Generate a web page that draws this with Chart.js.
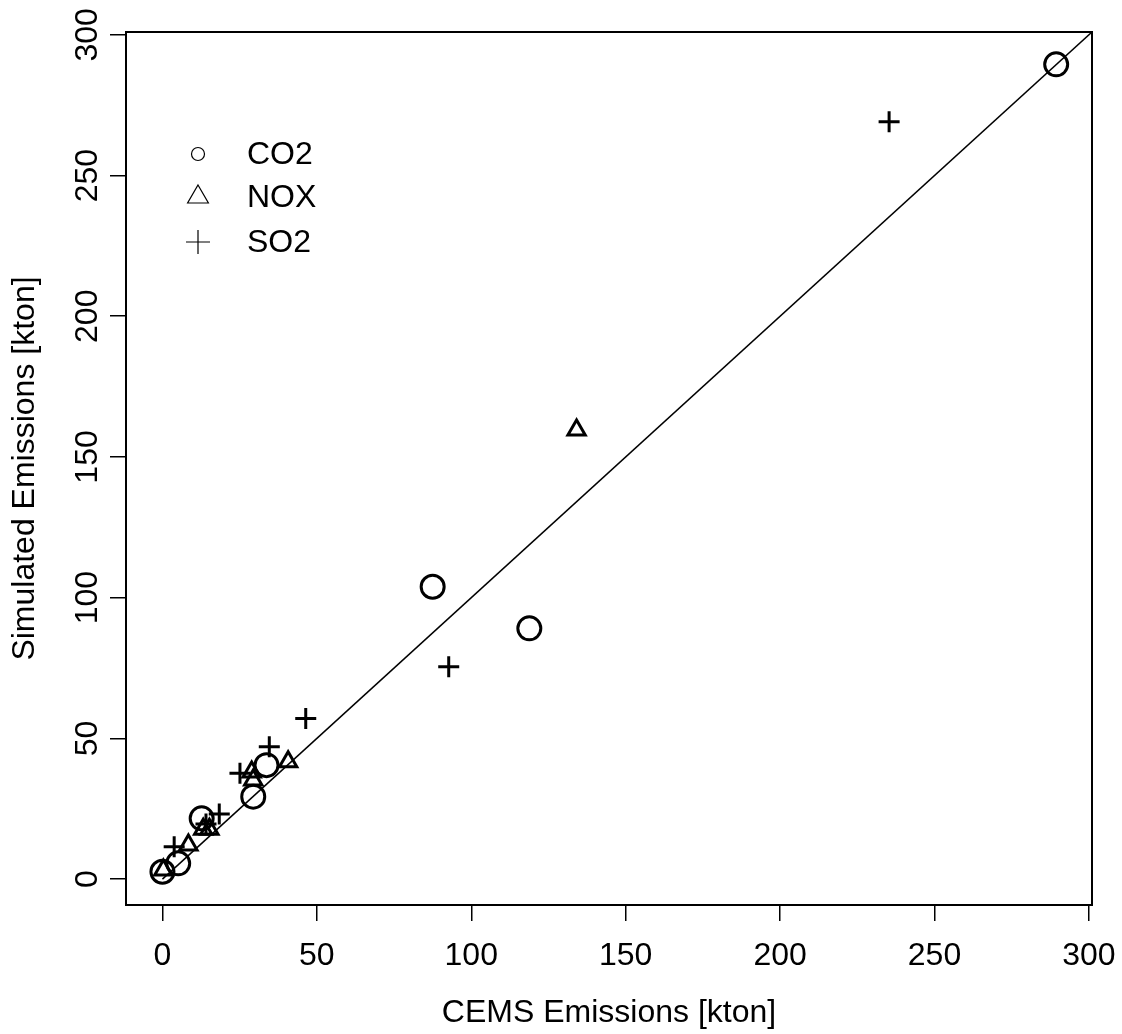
<!DOCTYPE html>
<html>
<head>
<meta charset="utf-8">
<script src="https://cdn.jsdelivr.net/npm/chart.js@4"></script>
<style>
  body { margin: 0; background: #fff; }
  canvas { display: block; }
</style>
</head>
<body>
<canvas id="chart" width="1122" height="1034"></canvas>
<script>
// values (kton)
const co2X = [289.4, 87.5, 118.8, 33.7, 29.4, 12.7, 5.1, 0.0];
const co2Y = [289.5, 103.9, 89.1, 40.5, 29.3, 21.6, 5.6, 2.6];
const noxX = [134.1, 40.7, 28.9, 29.4, 13.2, 15.2, 8.4, 0.3];
const noxY = [159.6, 41.7, 38.1, 35.2, 17.7, 17.7, 12.1, 3.2];
const so2X = [235.3, 92.7, 46.4, 34.6, 25.1, 18.4, 14.1, 3.8];
const so2Y = [269.1, 75.5, 57.1, 47.0, 37.6, 23.1, 19.6, 11.5];
const xTicks = [0, 50, 100, 150, 200, 250, 300];
const yTicks = [0, 50, 100, 150, 200, 250, 300];
const oneToOne = [0, 320];

const toPoints = (xs, ys) => xs.map((x, i) => ({ x: x, y: ys[i] }));
const font = 'Liberation Sans, Arial, sans-serif';

const frame = {
  id: 'frame',
  afterDraw(chart) {
    const { ctx, chartArea: a, scales } = chart;
    ctx.save();
    // box round the plot
    ctx.strokeStyle = '#000';
    ctx.lineWidth = 2;
    ctx.strokeRect(a.left, a.top, a.right - a.left, a.bottom - a.top);

    // y tick labels, written along the axis
    ctx.fillStyle = '#000';
    ctx.font = '32px ' + font;
    ctx.textAlign = 'center';
    ctx.textBaseline = 'alphabetic';
    yTicks.forEach(v => {
      const y = scales.y.getPixelForValue(v);
      ctx.save();
      ctx.translate(a.left - 29, y);
      ctx.rotate(-Math.PI / 2);
      ctx.fillText(String(v), 0, 0);
      ctx.restore();
    });

    // legend in the top left corner
    const lx = a.left + 72, tx = a.left + 121;
    const rows = [a.top + 122, a.top + 165, a.top + 210];
    ctx.textAlign = 'left';
    ctx.textBaseline = 'middle';
    chart.data.datasets.slice(0, 3).forEach((ds, i) => {
      ctx.fillStyle = 'rgba(0,0,0,0)';
      ctx.strokeStyle = '#000';
      ctx.lineWidth = 1.2;
      Chart.helpers.drawPoint(ctx, {
        pointStyle: ds.pointStyle,
        radius: [6.5, 12, 12][i],
        borderWidth: 1.2
      }, lx, rows[i]);
      ctx.fillStyle = '#000';
      ctx.fillText(ds.label, tx, rows[i] + 1);
    });
    ctx.restore();
  }
};

new Chart(document.getElementById('chart'), {
  type: 'scatter',
  data: {
    datasets: [
      {
        label: 'CO2',
        data: toPoints(co2X, co2Y),
        pointStyle: 'circle',
        pointRadius: 11.5,
        borderWidth: 3,
        borderColor: '#000',
        backgroundColor: 'rgba(0,0,0,0)'
      },
      {
        label: 'NOX',
        data: toPoints(noxX, noxY),
        pointStyle: 'triangle',
        pointRadius: 10,
        borderWidth: 3,
        borderColor: '#000',
        backgroundColor: 'rgba(0,0,0,0)'
      },
      {
        label: 'SO2',
        data: toPoints(so2X, so2Y),
        pointStyle: 'cross',
        pointRadius: 10.5,
        borderWidth: 3,
        borderColor: '#000',
        backgroundColor: 'rgba(0,0,0,0)'
      },
      {
        label: '1:1',
        data: toPoints(oneToOne, oneToOne),
        showLine: true,
        clip: 0,
        pointRadius: 0,
        borderWidth: 1.5,
        borderColor: '#000'
      }
    ]
  },
  options: {
    responsive: false,
    animation: false,
    devicePixelRatio: 1,
    layout: { padding: { top: 32, right: 30, left: 0, bottom: 0 } },
    plugins: {
      legend: { display: false },
      tooltip: { enabled: false }
    },
    scales: {
      x: {
        type: 'linear',
        min: -11.8,
        max: 301,
        afterBuildTicks: s => { s.ticks = xTicks.map(v => ({ value: v })); },
        afterFit: s => { s.height = 129; s.paddingLeft = 0; s.paddingRight = 0; },
        border: { display: false },
        grid: { drawOnChartArea: false, drawTicks: true, tickLength: 16, color: '#000', lineWidth: 1.5 },
        ticks: { color: '#000', padding: 16, maxRotation: 0, font: { family: font, size: 32 } },
        title: {
          display: true,
          text: 'CEMS Emissions [kton]',
          color: '#000',
          font: { family: font, size: 32 },
          padding: { top: 0, bottom: 2 }
        }
      },
      y: {
        type: 'linear',
        min: -9.2,
        max: 301,
        afterBuildTicks: s => { s.ticks = yTicks.map(v => ({ value: v })); },
        afterFit: s => { s.width = 126; s.paddingTop = 0; s.paddingBottom = 0; },
        border: { display: false },
        grid: { drawOnChartArea: false, drawTicks: true, tickLength: 16, color: '#000', lineWidth: 1.5 },
        ticks: { callback: () => '', font: { family: font, size: 32 } },
        title: {
          display: true,
          text: 'Simulated Emissions [kton]',
          color: '#000',
          font: { family: font, size: 32 },
          padding: { top: 6, bottom: 0 }
        }
      }
    }
  },
  plugins: [frame]
});
</script>
</body>
</html>
